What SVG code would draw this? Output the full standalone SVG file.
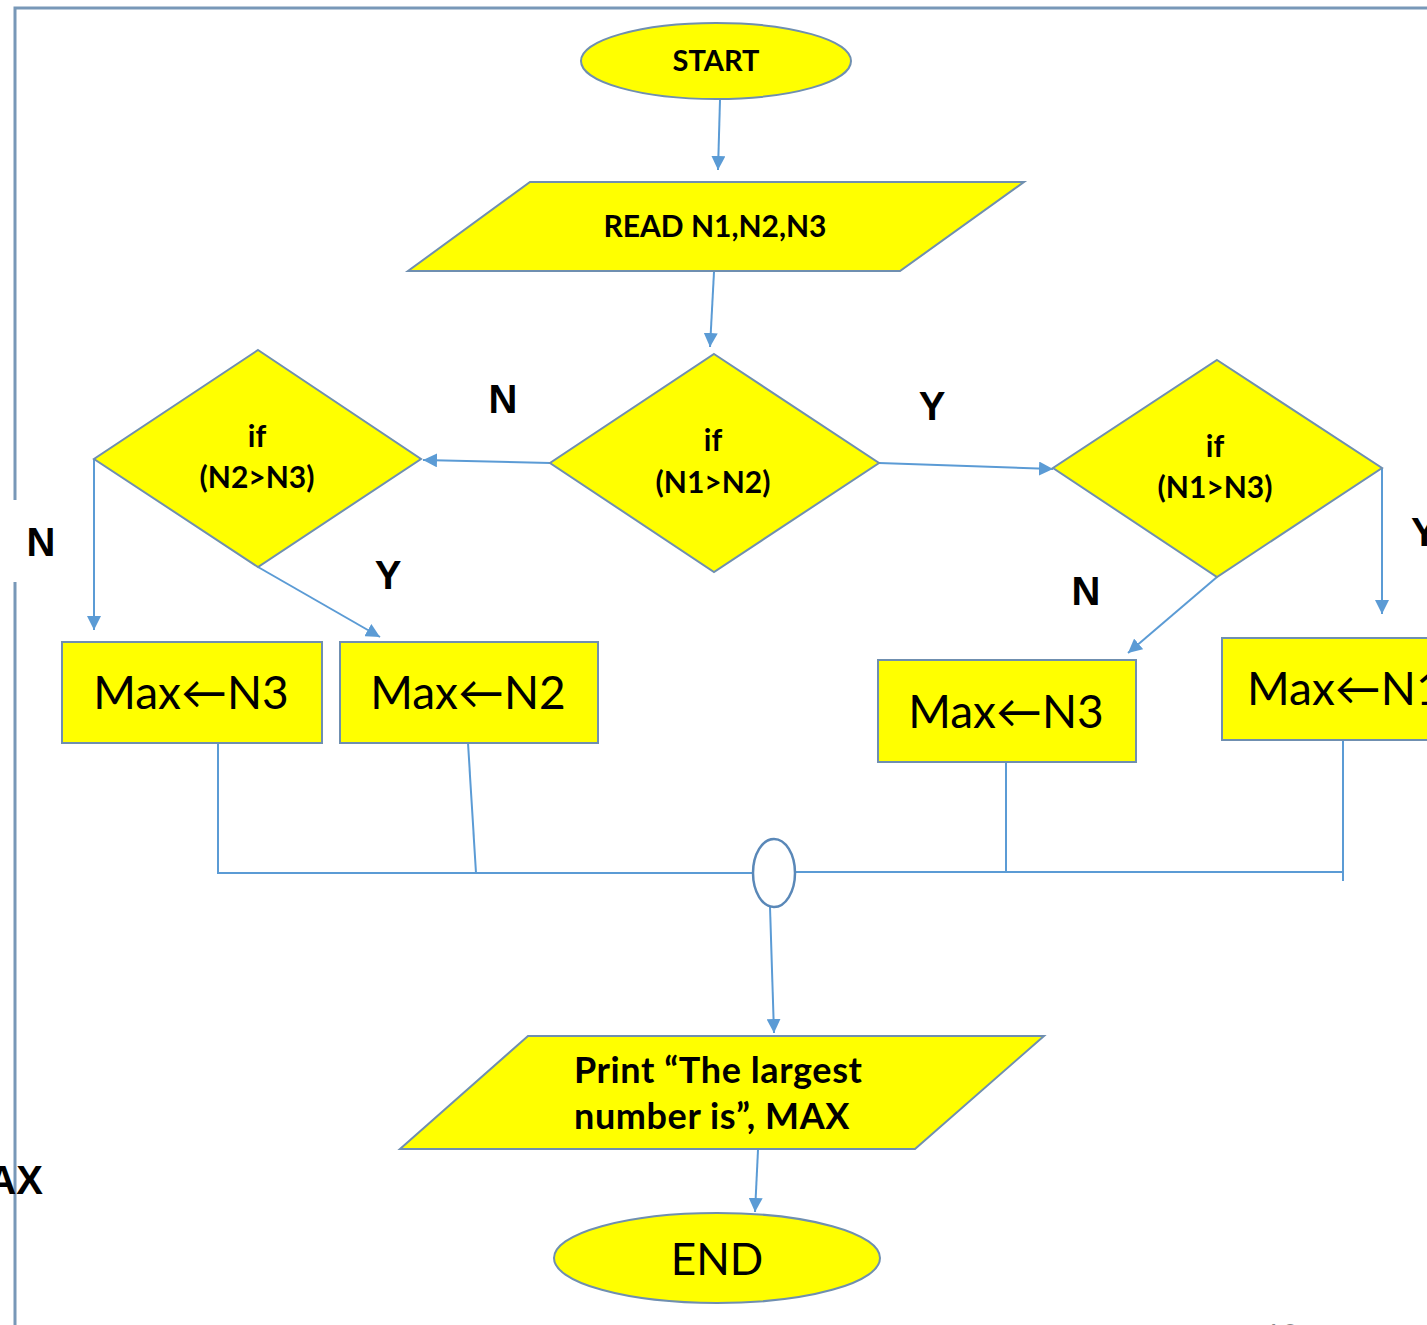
<svg xmlns="http://www.w3.org/2000/svg" width="1427" height="1325" viewBox="0 0 1427 1325">
  <style>
    .shape { fill: #ffff00; stroke: #6f8fb0; stroke-width: 2; }
    .conn { fill: none; stroke: #5b9bd5; stroke-width: 2; }
    .frame { fill: none; stroke: #7898b8; stroke-width: 3; }
    .bold { font-family: Lato, "Liberation Sans", sans-serif; font-weight: bold; fill: #000; }
    .reg { font-family: Lato, "Liberation Sans", sans-serif; font-weight: normal; fill: #000; }
    .lbl { font-family: "Liberation Sans", Arial, sans-serif; font-weight: bold; font-size: 40px; fill: #000; }
  </style>
  <defs>
    <marker id="arrow" viewBox="0 0 10 10" refX="10" refY="5" markerWidth="7" markerHeight="7" markerUnits="strokeWidth" orient="auto">
      <path d="M0,0 L10,5 L0,10 z" fill="#5b9bd5"/>
    </marker>
  </defs>

  <rect width="1427" height="1325" fill="#ffffff"/>

  <!-- page frame -->
  <g id="frame">
    <path class="frame" d="M15,1325 L15,582 M15,500 L15,8 L1427,8"/>
  </g>

  <!-- connectors -->
  <g id="connectors">
    <line class="conn" x1="720" y1="100" x2="718" y2="170" marker-end="url(#arrow)"/>
    <line class="conn" x1="714" y1="272" x2="710" y2="347" marker-end="url(#arrow)"/>
    <line class="conn" x1="550" y1="463" x2="423" y2="460" marker-end="url(#arrow)"/>
    <line class="conn" x1="879" y1="463" x2="1053" y2="469" marker-end="url(#arrow)"/>
    <line class="conn" x1="94" y1="459" x2="94" y2="630" marker-end="url(#arrow)"/>
    <line class="conn" x1="258" y1="567" x2="380" y2="637" marker-end="url(#arrow)"/>
    <line class="conn" x1="1217" y1="577" x2="1128" y2="653" marker-end="url(#arrow)"/>
    <line class="conn" x1="1382" y1="468" x2="1382" y2="614" marker-end="url(#arrow)"/>
    <path class="conn" d="M218,735 L218,873 L753,873"/>
    <line class="conn" x1="468" y1="743" x2="476" y2="873"/>
    <path class="conn" d="M796,872 L1343,872"/>
    <line class="conn" x1="1006" y1="762" x2="1006" y2="872"/>
    <line class="conn" x1="1343" y1="740" x2="1343" y2="881"/>
    <line class="conn" x1="770" y1="907" x2="774" y2="1033" marker-end="url(#arrow)"/>
    <line class="conn" x1="758" y1="1150" x2="755" y2="1212" marker-end="url(#arrow)"/>
  </g>

  <g id="start">
    <ellipse class="shape" cx="716" cy="61" rx="135" ry="38"/>
    <text class="bold" x="716" y="71" font-size="29" text-anchor="middle">START</text>
  </g>

  <g id="read">
    <polygon class="shape" points="530,182 1024,182 900,271 408,271"/>
    <text class="bold" x="715" y="237" font-size="30" text-anchor="middle">READ N1,N2,N3</text>
  </g>

  <g id="if-n1-n2">
    <polygon class="shape" points="714,354 879,463 714,572 550,463"/>
    <text class="bold" x="713" y="451" font-size="30" text-anchor="middle">if</text>
    <text class="bold" x="713" y="493" font-size="30" text-anchor="middle">(N1&gt;N2)</text>
  </g>

  <g id="if-n2-n3">
    <polygon class="shape" points="258,350 421,459 258,567 94,459"/>
    <text class="bold" x="257" y="447" font-size="30" text-anchor="middle">if</text>
    <text class="bold" x="257" y="488" font-size="30" text-anchor="middle">(N2&gt;N3)</text>
  </g>

  <g id="if-n1-n3">
    <polygon class="shape" points="1217,360 1382,468 1217,577 1053,468"/>
    <text class="bold" x="1215" y="457" font-size="30" text-anchor="middle">if</text>
    <text class="bold" x="1215" y="498" font-size="30" text-anchor="middle">(N1&gt;N3)</text>
  </g>

  <g id="branch-labels">
    <text class="lbl" x="503" y="413" text-anchor="middle">N</text>
    <text class="lbl" x="932" y="420" text-anchor="middle">Y</text>
    <text class="lbl" x="41" y="556" text-anchor="middle">N</text>
    <text class="lbl" x="388" y="589" text-anchor="middle">Y</text>
    <text class="lbl" x="1086" y="605" text-anchor="middle">N</text>
    <text class="lbl" x="1411" y="546">Y</text>
  </g>

  <g id="max-n3-left">
    <rect class="shape" x="62" y="642" width="260" height="101"/>
    <text class="reg" x="191" y="709" font-size="46" text-anchor="middle">Max←N3</text>
  </g>

  <g id="max-n2">
    <rect class="shape" x="340" y="642" width="258" height="101"/>
    <text class="reg" x="468" y="709" font-size="46" text-anchor="middle">Max←N2</text>
  </g>

  <g id="max-n3-right">
    <rect class="shape" x="878" y="660" width="258" height="102"/>
    <text class="reg" x="1006" y="728" font-size="46" text-anchor="middle">Max←N3</text>
  </g>

  <g id="max-n1">
    <rect class="shape" x="1222" y="638" width="220" height="102"/>
    <text class="reg" x="1247" y="705" font-size="46">Max←N1</text>
  </g>

  <g id="join">
    <ellipse cx="774" cy="873" rx="21" ry="34" fill="#ffffff" stroke="#5a88b8" stroke-width="2.5"/>
  </g>

  <g id="print">
    <polygon class="shape" points="528,1036 1044,1036 915,1149 400,1149"/>
    <text class="bold" x="574" y="1083" font-size="36" letter-spacing="0.6">Print “The largest</text>
    <text class="bold" x="574" y="1129" font-size="36" letter-spacing="0.6">number is”, MAX</text>
  </g>

  <g id="end">
    <ellipse class="shape" cx="717" cy="1258" rx="163" ry="45"/>
    <text class="reg" x="717" y="1275" font-size="44" text-anchor="middle">END</text>
  </g>

  <g id="edge-texts">
    <text class="lbl" x="43" y="1194" text-anchor="end" font-size="44">AX</text>
    <text x="1264" y="1346" font-family="Lato, 'Liberation Sans', sans-serif" font-size="30" fill="#8a8a8a">10</text>
  </g>
</svg>
